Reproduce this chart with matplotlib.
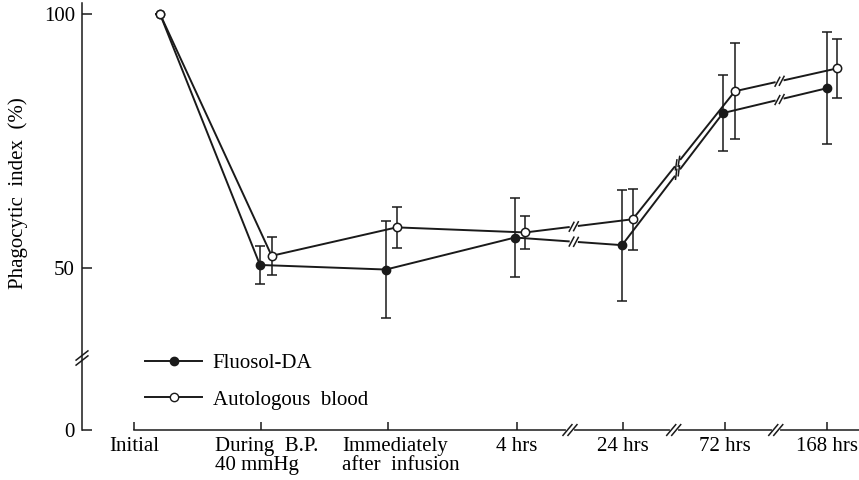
import matplotlib
matplotlib.use("Agg")
import matplotlib.pyplot as plt
from matplotlib.lines import Line2D
from matplotlib.transforms import IdentityTransform, ScaledTranslation
import numpy as np

# ---------------------------------------------------------------
# dados
categorias = ["Initial", "During  B.P.\n40 mmHg", "Immediately\nafter  infusion",
              "4 hrs", "24 hrs", "72 hrs", "168 hrs"]
fluosol = [100, 50.6, 49.7, 56.0, 54.5, 80.5, 85.4]
fluosol_err = [0, 3.7, 9.5, 7.7, 10.9, 7.4, 11.0]
autologo = [100, 52.4, 58.0, 57.0, 59.6, 84.8, 89.3]
autologo_err = [0, 3.8, 4.1, 3.2, 6.0, 9.4, 5.8]

# posicoes (layout): ticks e pontos de cada serie
tick_pos = [0, 1, 2, 3.016, 3.85, 4.65, 5.457]
fluosol_x = [0.205, 0.992, 1.984, 3.0, 3.843, 4.638, 5.457]
autologo_x = [0.205, 1.084, 2.068, 3.081, 3.927, 4.732, 5.537]

Y_ZERO = 18.11   # posicao onde o "0" aparece (eixo quebrado)

plt.rcParams['font.family'] = ['Liberation Serif', 'DejaVu Serif']
plt.rcParams['font.size'] = 15

fig = plt.figure(figsize=(8.59, 4.8), dpi=100)
ax = fig.add_axes([82/859, 1-430/480, (859-82)/859, (430-3)/480])
ax.set_xlim(-0.4094, 5.709)
ax.set_ylim(Y_ZERO, 102.17)

lw = 1.4
ax.errorbar(fluosol_x, fluosol, yerr=fluosol_err, fmt='none', ecolor='#1a1a1a',
            elinewidth=1.1, capsize=3.6, capthick=1.1, zorder=2)
ax.errorbar(autologo_x, autologo, yerr=autologo_err, fmt='none', ecolor='#1a1a1a',
            elinewidth=1.1, capsize=3.6, capthick=1.1, zorder=2)
ax.plot(fluosol_x, fluosol, '-o', color='#1a1a1a', lw=lw, ms=6,
        mfc='#1a1a1a', mec='#1a1a1a', zorder=3)
ax.plot(autologo_x, autologo, '-o', color='#1a1a1a', lw=lw, ms=6,
        mfc='white', mec='#1a1a1a', mew=1.1, zorder=4)

# eixos
for s in ['top', 'right']:
    ax.spines[s].set_visible(False)
for s in ['left', 'bottom']:
    ax.spines[s].set_linewidth(1.1)
    ax.spines[s].set_color('#1a1a1a')
ax.spines['bottom'].set_bounds(0, 5.709)

ax.set_yticks([Y_ZERO, 50, 100])
ax.set_yticklabels(['0', '50', '100'])
ax.tick_params(axis='y', direction='in', length=7.2, width=1.1, pad=5, color='#1a1a1a')
ax.set_xticks(tick_pos)
ax.set_xticklabels(categorias, linespacing=1.0)
ax.tick_params(axis='x', direction='in', length=6, width=1.1, pad=5, color='#1a1a1a')
# rotulos de duas linhas: alinhados a esquerda
desloc = ScaledTranslation(-46/100, 0, fig.dpi_scale_trans)
for t in ax.get_xticklabels()[1:3]:
    t.set_horizontalalignment('left')
    t.set_multialignment('left')
    t.set_transform(t.get_transform() + desloc)

ax.set_ylabel("Phagocytic  index  (%)")
ax.yaxis.set_label_coords(-0.07, 0.555)

# legenda
h1 = Line2D([], [], color='#1a1a1a', lw=lw, marker='o', ms=6, mfc='#1a1a1a', mec='#1a1a1a')
h2 = Line2D([], [], color='#1a1a1a', lw=lw, marker='o', ms=6, mfc='white', mec='#1a1a1a')
fig.legend([h1, h2], ["Fluosol-DA", "Autologous  blood"], loc='center left',
           bbox_to_anchor=(145/859, 1-381.5/480), frameon=False, borderpad=0,
           borderaxespad=0, handlelength=2.75, handletextpad=0.5, labelspacing=0.82)


# ---------------------------------------------------------------
def quebra(xd, yd, ang, comp, dx, dy, apaga=None):
    """ desenha duas barrinhas // em (xd, yd) (coords de dados) """
    x0, y0 = ax.transData.transform((xd, yd))
    c, s = np.cos(np.radians(ang)), np.sin(np.radians(ang))
    if apaga is not None:
        ax_, ay_ = apaga
        fig.add_artist(Line2D([x0 - ax_, x0 + ax_], [y0 - ay_, y0 + ay_], color='white',
                              lw=3, transform=IdentityTransform(), zorder=10))
    for k in (-1, 1):
        cx, cy = x0 + k*dx, y0 + k*dy
        fig.add_artist(Line2D([cx - c*comp/2, cx + c*comp/2], [cy - s*comp/2, cy + s*comp/2],
                              color='#1a1a1a', lw=1.1, transform=IdentityTransform(), zorder=11))


# quebra no eixo y
quebra(-0.4094, 50 - (358 - 268) / 5.08, 38, 15, 0, 2.5)

# quebras no eixo x e nas linhas
for i in range(3, 6):
    xq = (tick_pos[i] + tick_pos[i+1]) / 2
    quebra(xq, Y_ZERO, 50, 14, 2.5, 0, apaga=(2, 0))
    for xs, ys in ((fluosol_x, fluosol), (autologo_x, autologo)):
        xa, xb, ya, yb = xs[i], xs[i+1], ys[i], ys[i+1]
        xm = xq + 0.03
        ym = ya + (yb - ya) * (xm - xa) / (xb - xa)
        pa = ax.transData.transform((xa, ya))
        pb = ax.transData.transform((xb, yb))
        d = (pb - pa) / np.hypot(*(pb - pa))
        ang_linha = np.degrees(np.arctan2(d[1], d[0]))
        quebra(xm, ym, max(62, ang_linha + 30), 10, 2.2*d[0], 2.2*d[1],
               apaga=(2*d[0], 2*d[1]))

fig.savefig("out.png", dpi=100)
